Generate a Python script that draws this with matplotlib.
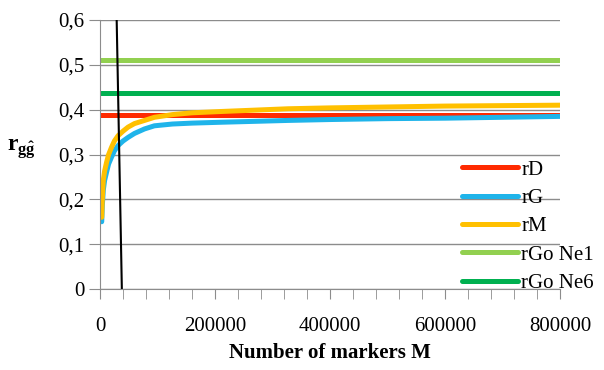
import matplotlib.pyplot as plt
from matplotlib.ticker import MultipleLocator

plt.rcParams['font.family'] = ['Liberation Serif', 'DejaVu Serif']
plt.rcParams['mathtext.fontset'] = 'custom'
plt.rcParams['mathtext.rm'] = 'Liberation Serif'
plt.rcParams['mathtext.bf'] = 'Liberation Serif:bold'

# number of markers
m_curve = [3000, 4000, 5700, 8000, 11500, 15000, 20000, 25000, 31500, 40000,
           48700, 60000, 77400, 94600, 126000, 160000, 212000, 270000, 327000,
           400000, 500000, 600000, 700000, 800000]
rG = [0.150, 0.185, 0.220, 0.242, 0.261, 0.279, 0.294, 0.308, 0.320, 0.330,
      0.338, 0.347, 0.357, 0.364, 0.368, 0.370, 0.372, 0.374, 0.376,
      0.378, 0.380, 0.381, 0.383, 0.385]
rM = [0.160, 0.200, 0.242, 0.263, 0.283, 0.300, 0.316, 0.330, 0.342, 0.352,
      0.361, 0.369, 0.376, 0.383, 0.389, 0.393, 0.396, 0.399, 0.402,
      0.404, 0.406, 0.408, 0.409, 0.410]
m_flat = [0, 800000]
rD = [0.387, 0.387]
rGoNe1 = [0.51, 0.51]
rGoNe6 = [0.438, 0.438]
# black reference line
m_ref = [29000, 38000]
r_ref = [0.6, 0.0]

yticks = [0, 0.1, 0.2, 0.3, 0.4, 0.5, 0.6]
ylabels = ['0', '0,1', '0,2', '0,3', '0,4', '0,5', '0,6']
xticks = [0, 200000, 400000, 600000, 800000]
xlabels = ['0', '200000', '400000', '600000', '800000']

fig = plt.figure(figsize=(6.04, 3.70), dpi=100)
ax = fig.add_axes([100/604, 1-289/370, 460/604, 269/370])

lw = 3.6
ax.plot(m_flat, rD, color='#ff2a00', lw=lw, label='rD', solid_capstyle='round')
ax.plot(m_curve, rG, color='#1fb4ea', lw=lw, label='rG', solid_capstyle='round')
ax.plot(m_curve, rM, color='#ffc000', lw=lw, label='rM', solid_capstyle='round')
ax.plot(m_flat, rGoNe1, color='#92d050', lw=lw, label='rGo Ne1', solid_capstyle='round')
ax.plot(m_flat, rGoNe6, color='#00b050', lw=lw, label='rGo Ne6', solid_capstyle='round')
ax.plot(m_ref, r_ref, color='black', lw=1.5)

ax.set_xlim(0, 800000)
ax.set_ylim(0, 0.6)
ax.set_yticks(yticks)
ax.set_yticklabels(ylabels)
ax.set_xticks(xticks)
ax.set_xticklabels(xlabels)
ax.xaxis.set_minor_locator(MultipleLocator(40000))
ax.yaxis.grid(True, color='#8c8c8c', lw=1)
ax.set_axisbelow(True)

for s in ['top', 'right']:
    ax.spines[s].set_visible(False)
for s in ['left', 'bottom']:
    ax.spines[s].set_color('#8c8c8c')
ax.tick_params(axis='both', which='both', direction='out', color='#8c8c8c',
               labelsize=15)
ax.tick_params(axis='x', which='both', length=7, pad=13)
ax.tick_params(axis='y', length=8, pad=3)

ax.set_xlabel('Number of markers M', fontsize=15, fontweight='bold', labelpad=5)
ax.set_ylabel(r'$\mathbf{r}_{\mathbf{g\hat{g}}}$', fontsize=17, rotation=0,
              labelpad=2, va='center')
ax.yaxis.set_label_coords(-0.17, 0.52)

leg = ax.legend(loc='upper left', bbox_to_anchor=(462/604, 1-160/370),
                bbox_transform=fig.transFigure, frameon=False, fontsize=15,
                handlelength=2.7, handletextpad=0.15, labelspacing=0.42,
                borderpad=0, borderaxespad=0)

fig.savefig('out.png', dpi=100)
